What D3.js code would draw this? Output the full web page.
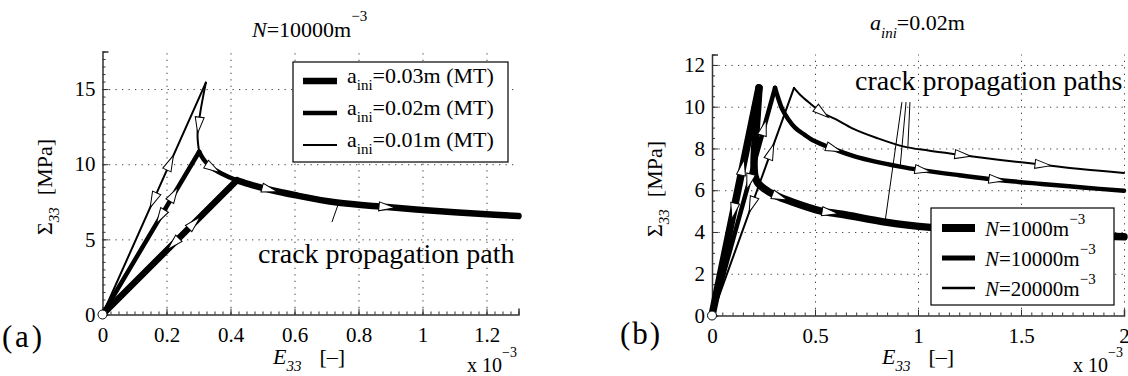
<!DOCTYPE html>
<html>
<head>
<meta charset="utf-8">
<script src="https://cdn.jsdelivr.net/npm/d3@7"></script>
<style>
body { margin: 0; background: #fff; }
svg, svg text { font-family: "Liberation Serif", "DejaVu Serif", "Noto Serif", serif !important; fill: #000; }
</style>
</head>
<body>
<script>
// ---- panel (a): N = 10000 m^-3, three initial crack sizes
var aIni = ["0.03", "0.02", "0.01"];
var aWidth = [6.5, 4.5, 2];
var aPeak = [[0.420, 8.93], [0.302, 10.83], [0.323, 15.43]];
var aDrop = [[0.323, 15.43], [0.306, 13.5], [0.297, 12.0], [0.302, 10.83]];
var aPath = [[0.302, 10.83], [0.315, 10.35], [0.336, 9.85], [0.37, 9.4], [0.42, 8.93], [0.47, 8.6],
             [0.523, 8.3], [0.6, 7.95], [0.733, 7.45], [0.889, 7.15], [1.0, 6.95], [1.1, 6.8],
             [1.2, 6.67], [1.3, 6.55]];
var aXTicks = [0, 0.2, 0.4, 0.6, 0.8, 1, 1.2];
var aYTicks = [0, 5, 10, 15];

// ---- panel (b): a_ini = 0.02 m, three crack densities
var bN = ["1000", "10000", "20000"];
var bWidth = [7.5, 4.5, 2];
var bPeak = [[0.228, 10.9], [0.306, 10.9], [0.398, 10.9]];
var bPath1000 = [[0.228, 10.9], [0.222, 10.0], [0.215, 9.0], [0.207, 8.0], [0.204, 7.2], [0.208, 6.7],
                 [0.222, 6.35], [0.25, 6.1], [0.306, 5.76], [0.4, 5.4], [0.53, 5.0], [0.63, 4.85],
                 [0.85, 4.46], [1.06, 4.22], [1.5, 3.95], [2.0, 3.77]];
var bPath10000 = [[0.306, 10.9], [0.32, 10.45], [0.34, 9.9], [0.37, 9.4], [0.403, 9.0], [0.45, 8.65],
                  [0.485, 8.42], [0.573, 8.04], [0.7, 7.6], [0.913, 7.13], [1.024, 6.95], [1.2, 6.72],
                  [1.383, 6.5], [1.6, 6.3], [1.8, 6.13], [2.0, 5.97]];
var bPath20000 = [[0.398, 10.9], [0.43, 10.55], [0.471, 10.2], [0.534, 9.72], [0.6, 9.4], [0.684, 8.95],
                  [0.8, 8.5], [0.927, 8.1], [1.05, 7.9], [1.218, 7.68], [1.4, 7.45], [1.607, 7.22],
                  [1.8, 7.0], [2.0, 6.83]];
var bXTicks = [0, 0.5, 1, 1.5, 2];
var bYTicks = [0, 2, 4, 6, 8, 10, 12];

var svg = d3.select("body").append("svg")
  .attr("width", 1128)
  .attr("height", 376)
  .attr("font-family", "Liberation Serif");

var fmt = d3.format("~g");
var curve = d3.line().curve(d3.curveCatmullRom.alpha(0.5));

function panel(o) {
  var x = d3.scaleLinear().domain(o.xd).range(o.xr);
  var y = d3.scaleLinear().domain(o.yd).range(o.yr);
  var g = svg.append("g");
  var h = o.yr[0] - o.yr[1];
  var w = o.xr[1] - o.xr[0];

  // dotted grid
  g.append("g").attr("transform", "translate(0," + o.yr[0] + ")")
    .call(d3.axisBottom(x).tickValues(o.xt.slice(1)).tickSize(-h).tickFormat(""))
    .call(function(s) { s.select(".domain").remove(); });
  g.append("g").attr("transform", "translate(" + o.xr[0] + ",0)")
    .call(d3.axisLeft(y).tickValues(o.yt.slice(1)).tickSize(-w).tickFormat(""))
    .call(function(s) { s.select(".domain").remove(); });
  g.selectAll(".tick line").attr("stroke", "#444").attr("stroke-dasharray", "1.3,5.2");

  // minor ticks
  g.append("g").attr("transform", "translate(0," + o.yr[0] + ")")
    .call(d3.axisBottom(x).tickValues(d3.range(o.xd[0], o.xd[1] + 1e-9, o.xm)).tickSize(-3).tickFormat(""))
    .call(function(s) { s.select(".domain").remove(); s.selectAll("line").attr("stroke", "#333"); });
  g.append("g").attr("transform", "translate(" + o.xr[0] + ",0)")
    .call(d3.axisLeft(y).tickValues(d3.range(o.yd[0], o.yd[1] + 1e-9, o.ym)).tickSize(-3).tickFormat(""))
    .call(function(s) { s.select(".domain").remove(); s.selectAll("line").attr("stroke", "#333"); });

  // axes with labels
  var xa = g.append("g").attr("transform", "translate(0," + o.yr[0] + ")")
    .call(d3.axisBottom(x).tickValues(o.xt).tickSize(-6).tickPadding(13).tickFormat(fmt));
  var ya = g.append("g").attr("transform", "translate(" + o.xr[0] + ",0)")
    .call(d3.axisLeft(y).tickValues(o.yt).tickSize(-6).tickPadding(7).tickFormat(fmt));
  [xa, ya].forEach(function(a) {
    a.select(".domain").attr("stroke", "#333").attr("stroke-width", 1.5);
    a.selectAll(".tick line").attr("stroke", "#333");
    a.selectAll("text").style("font-size", "21px").attr("fill", "#000");
  });
  g.selectAll("g").attr("font-family", null);
  return { g: g, x: x, y: y };
}

function locate(pts, key, v) {
  for (var i = 0; i < pts.length - 1; i++) {
    var a = pts[i], b = pts[i + 1];
    if (a[key] !== b[key] && (a[key] - v) * (b[key] - v) <= 0) {
      var t = (v - a[key]) / (b[key] - a[key]);
      return { p: [a[0] + t * (b[0] - a[0]), a[1] + t * (b[1] - a[1])], a: a, b: b };
    }
  }
  return null;
}

function arrows(P, list) {
  list.forEach(function(d) {
    var r = locate(d.pts, d.by === "x" ? 0 : 1, d.at);
    var px = P.x(r.p[0]), py = P.y(r.p[1]);
    var ang = Math.atan2(P.y(r.b[1]) - P.y(r.a[1]), P.x(r.b[0]) - P.x(r.a[0])) * 180 / Math.PI;
    if (d.rev) ang += 180;
    P.g.append("path")
      .attr("d", "M8,0L-8,-4.5L-8,4.5Z")
      .attr("transform", "translate(" + px + "," + py + ") rotate(" + ang + ")")
      .attr("fill", "#fff").attr("stroke", "#000").attr("stroke-width", 1);
  });
}

function drawLine(P, pts, wd, smooth) {
  P.g.append("path")
    .attr("d", (smooth ? curve : d3.line())(pts.map(function(d) { return [P.x(d[0]), P.y(d[1])]; })))
    .attr("fill", "none").attr("stroke", "#000").attr("stroke-width", wd)
    .attr("stroke-linejoin", "round").attr("stroke-linecap", "round");
}

function leader(P, a, b) {
  P.g.append("line")
    .attr("x1", P.x(a[0])).attr("y1", P.y(a[1]))
    .attr("x2", P.x(b[0])).attr("y2", P.y(b[1]))
    .attr("stroke", "#000").attr("stroke-width", 1);
}

function axisLabels(P, o) {
  var t = P.g.append("text").attr("x", o.ex).attr("y", 364).style("font-size", "22px");
  t.append("tspan").style("font-style", "italic").text("E");
  t.append("tspan").attr("dy", 7).style("font-size", "15px").style("font-style", "italic").text("33");
  t.append("tspan").attr("dy", -7).attr("dx", 18).text("[\u2013]");

  var s = P.g.append("text").attr("transform", "translate(" + o.sx + "," + o.sy + ") rotate(-90)")
    .style("font-size", "22px");
  s.append("tspan").text("\u03a3");
  s.append("tspan").attr("dy", 7).style("font-size", "15px").style("font-style", "italic").text("33");
  s.append("tspan").attr("dy", -7).attr("dx", 12).text("[MPa]");

  var e = P.g.append("text").attr("x", o.mx).attr("y", 372).style("font-size", "20px");
  e.append("tspan").text("x 10");
  e.append("tspan").attr("dy", -15).style("font-size", "14px").text("\u22123");

  P.g.append("text").attr("x", o.px).attr("y", o.py).style("font-size", "31px")
    .attr("textLength", 40).attr("lengthAdjust", "spacing").text(o.tag);
}

// ================= panel (a)
var A = panel({ xd: [0, 1.3], xr: [102.5, 518.5], yd: [0, 17.5], yr: [314.5, 51.5],
                xt: aXTicks, yt: aYTicks, xm: 0.025, ym: 0.5 });

// thin -> thick so the thick curve sits on top
[2, 1, 0].forEach(function(i) {
  drawLine(A, [[0, 0], aPeak[i]], aWidth[i], false);
  if (i === 2) drawLine(A, aDrop, aWidth[i], true);
  var from = i === 0 ? 4 : 0;
  drawLine(A, aPath.slice(from), aWidth[i], true);
});

arrows(A, [
  { pts: [[0, 0], aPeak[2]], by: "y", at: 10.1 },
  { pts: [[0, 0], aPeak[2]], by: "y", at: 7.6, rev: true },
  { pts: [[0, 0], aPeak[1]], by: "y", at: 8.0 },
  { pts: [[0, 0], aPeak[1]], by: "y", at: 6.5, rev: true },
  { pts: [[0, 0], aPeak[0]], by: "y", at: 6.1 },
  { pts: [[0, 0], aPeak[0]], by: "y", at: 4.7, rev: true },
  { pts: aDrop, by: "y", at: 12.6 },
  { pts: aPath, by: "x", at: 0.345 },
  { pts: aPath, by: "x", at: 0.523 },
  { pts: aPath, by: "x", at: 0.889 }
]);

A.g.append("circle").attr("cx", A.x(0)).attr("cy", A.y(0)).attr("r", 4.5)
  .attr("fill", "#fff").attr("stroke", "#000");

leader(A, [0.717, 6.15], [0.736, 7.3]);
A.g.append("text").attr("x", 258).attr("y", 263).style("font-size", "28px").text("crack propagation path");

// legend (a)
var la = A.g.append("g");
la.append("rect").attr("x", 293).attr("y", 62).attr("width", 215).attr("height", 100)
  .attr("fill", "#fff").attr("stroke", "#000").attr("stroke-width", 1.2);
aIni.forEach(function(v, i) {
  var ly = 81 + i * 32;
  la.append("line").attr("x1", 303).attr("x2", 337).attr("y1", ly).attr("y2", ly)
    .attr("stroke", "#000").attr("stroke-width", aWidth[i]);
  var t = la.append("text").attr("x", 347).attr("y", ly + 2).style("font-size", "22px");
  t.append("tspan").text("a");
  t.append("tspan").attr("dy", 7).style("font-size", "15px").text("ini");
  t.append("tspan").attr("dy", -7).text("=" + v + "m (MT)");
});

var ta = A.g.append("text").attr("x", 252).attr("y", 37).style("font-size", "22px");
ta.append("tspan").style("font-style", "italic").text("N");
ta.append("tspan").text("=10000m");
ta.append("tspan").attr("dy", -16).style("font-size", "15px").text("\u22123");

axisLabels(A, { ex: 273, sx: 52, sy: 235, mx: 467, px: 2, py: 347, tag: "(a)" });

// ================= panel (b)
var B = panel({ xd: [0, 2], xr: [712, 1124], yd: [0, 12.5], yr: [315.5, 54.5],
                xt: bXTicks, yt: bYTicks, xm: 0.05, ym: 0.5 });

var bPaths = [bPath1000, bPath10000, bPath20000];
[2, 1, 0].forEach(function(i) {
  drawLine(B, [[0, 0], bPeak[i]], bWidth[i], false);
  drawLine(B, bPaths[i], bWidth[i], true);
});

arrows(B, [
  { pts: [[0, 0], bPeak[0]], by: "y", at: 7.1 },
  { pts: [[0, 0], bPeak[0]], by: "y", at: 5.0, rev: true },
  { pts: [[0, 0], bPeak[1]], by: "y", at: 9.0 },
  { pts: [[0, 0], bPeak[1]], by: "y", at: 6.4, rev: true },
  { pts: [[0, 0], bPeak[2]], by: "y", at: 7.85 },
  { pts: [[0, 0], bPeak[2]], by: "y", at: 5.3, rev: true },
  { pts: bPath1000, by: "x", at: 0.33 },
  { pts: bPath1000, by: "x", at: 0.573 },
  { pts: bPath10000, by: "x", at: 0.592 },
  { pts: bPath10000, by: "x", at: 1.024 },
  { pts: bPath10000, by: "x", at: 1.383 },
  { pts: bPath20000, by: "x", at: 0.534 },
  { pts: bPath20000, by: "x", at: 1.218 },
  { pts: bPath20000, by: "x", at: 1.607 }
]);

B.g.append("circle").attr("cx", B.x(0)).attr("cy", B.y(0)).attr("r", 4.5)
  .attr("fill", "#fff").attr("stroke", "#000");

leader(B, [0.922, 10.22], [0.840, 4.48]);
leader(B, [0.942, 10.22], [0.913, 7.08]);
leader(B, [0.961, 10.22], [0.951, 8.1]);
B.g.append("text").attr("x", 855).attr("y", 90).style("font-size", "28px").text("crack propagation paths");

// legend (b)
var lb = B.g.append("g");
lb.append("rect").attr("x", 931).attr("y", 208).attr("width", 183).attr("height", 97)
  .attr("fill", "#fff").attr("stroke", "#000").attr("stroke-width", 1.2);
bN.forEach(function(v, i) {
  var ly = 228 + i * 30;
  lb.append("line").attr("x1", 942).attr("x2", 975).attr("y1", ly).attr("y2", ly)
    .attr("stroke", "#000").attr("stroke-width", bWidth[i] + 0.5);
  var t = lb.append("text").attr("x", 985).attr("y", ly + 8).style("font-size", "21px");
  t.append("tspan").style("font-style", "italic").text("N");
  t.append("tspan").text("=" + v + "m");
  t.append("tspan").attr("dy", -12).style("font-size", "15px").text("\u22123");
});

var tb = B.g.append("text").attr("x", 870).attr("y", 30).style("font-size", "22px");
tb.append("tspan").style("font-style", "italic").text("a");
tb.append("tspan").attr("dy", 8).style("font-size", "15px").style("font-style", "italic").text("ini");
tb.append("tspan").attr("dy", -8).text("=0.02m");

axisLabels(B, { ex: 882, sx: 662, sy: 237, mx: 1073, px: 620, py: 344, tag: "(b)" });
</script>
</body>
</html>
